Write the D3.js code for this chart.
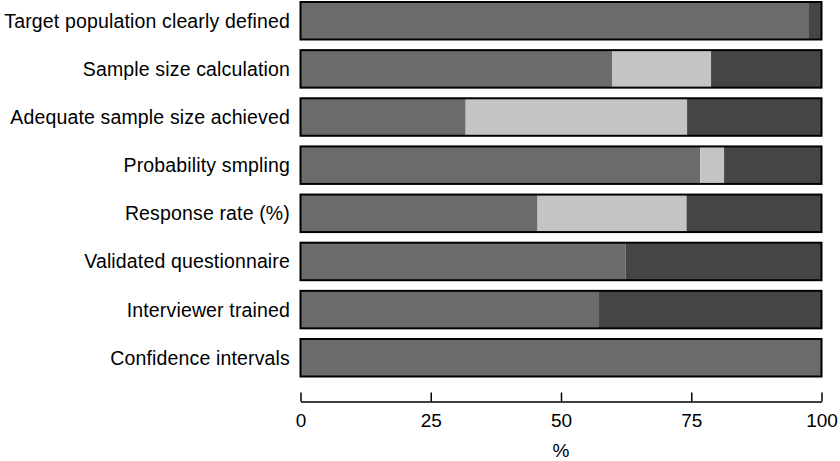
<!DOCTYPE html>
<html>
<head>
<meta charset="utf-8">
<script src="https://cdn.jsdelivr.net/npm/d3@7"></script>
<style>
  html, body { margin: 0; padding: 0; background: #fff; }
  svg { display: block; font-family: "Liberation Sans", Arial, Helvetica, sans-serif; }
</style>
</head>
<body>
<svg id="chart" width="840" height="461"></svg>
<script>
const categories = [
  "Target population clearly defined",
  "Sample size calculation",
  "Adequate sample size achieved",
  "Probability smpling",
  "Response rate (%)",
  "Validated questionnaire",
  "Interviewer trained",
  "Confidence intervals"
];
// percentages per segment: Yes, Unclear, No
const yesValues     = [97.6, 59.8, 31.7, 76.7, 45.5, 62.4, 57.3, 100];
const unclearValues = [0,    19.0, 42.5,  4.6, 28.6,  0,    0,    0];
const noValues      = [2.4,  21.2, 25.8, 18.7, 25.9, 37.6, 42.7,  0];
const seriesKeys = ["yes", "unclear", "no"];
const seriesColors = ["#6b6b6b", "#c4c4c4", "#454545"];
const xTicks = [0, 25, 50, 75, 100];
const xLabel = "%";

const rows = categories.map((c, i) => ({
  category: c, yes: yesValues[i], unclear: unclearValues[i], no: noValues[i]
}));

const svg = d3.select("#chart");
const x = d3.scaleLinear().domain([0, 100]).range([300.5, 821.5]);
const y = d3.scaleBand().domain(categories).range([2, 376.5]).paddingInner(0.221).paddingOuter(0);

const stack = d3.stack().keys(seriesKeys)(rows);
const color = d3.scaleOrdinal().domain(seriesKeys).range(seriesColors);

svg.append("g").selectAll("g").data(stack).join("g")
  .attr("fill", d => color(d.key))
  .selectAll("rect").data(d => d).join("rect")
  .attr("x", d => x(d[0]))
  .attr("width", d => Math.max(0, x(d[1]) - x(d[0])))
  .attr("y", d => y(d.data.category))
  .attr("height", y.bandwidth());

// bar outlines
svg.append("g").selectAll("rect").data(rows).join("rect")
  .attr("x", x(0))
  .attr("width", x(100) - x(0))
  .attr("y", d => y(d.category))
  .attr("height", y.bandwidth())
  .attr("fill", "none")
  .attr("stroke", "#000")
  .attr("stroke-width", 2);

// category labels
svg.append("g").selectAll("text").data(categories).join("text")
  .attr("x", 290)
  .attr("y", d => y(d) + y.bandwidth() / 2)
  .attr("dy", "0.36em")
  .attr("text-anchor", "end")
  .attr("font-size", 19.5)
  .attr("letter-spacing", 0.15)
  .attr("fill", "#000")
  .text(d => d);

// x axis
const axis = d3.axisBottom(x).tickValues(xTicks).tickSizeInner(-9).tickSizeOuter(0).tickPadding(12.5);
const gx = svg.append("g").attr("transform", "translate(0,401.5)").call(axis);
gx.select(".domain").attr("stroke", "#000").attr("stroke-width", 1.5);
gx.selectAll(".tick line").attr("stroke", "#000").attr("stroke-width", 1.5);
gx.selectAll(".tick text").attr("font-size", 19).attr("fill", "#000")
  .attr("font-family", "'Liberation Sans', Arial, Helvetica, sans-serif");

svg.append("text")
  .attr("x", (x(0) + x(100)) / 2)
  .attr("y", 457)
  .attr("text-anchor", "middle")
  .attr("font-size", 19)
  .attr("fill", "#000")
  .text(xLabel);
</script>
</body>
</html>
